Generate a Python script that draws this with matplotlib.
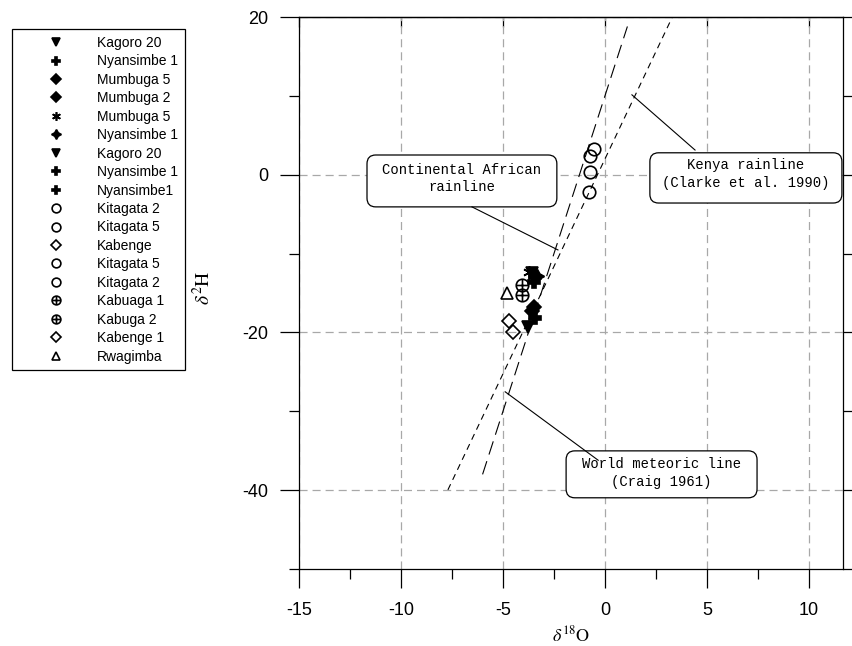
import matplotlib
matplotlib.use('Agg')
import matplotlib.pyplot as plt
from matplotlib.path import Path
from matplotlib.patches import FancyBboxPatch
from matplotlib.ticker import MultipleLocator
import numpy as np

plt.rcParams['mathtext.fontset'] = 'stix'
plt.rcParams['lines.scale_dashes'] = False
plt.rcParams['axes.unicode_minus'] = False

# ---------------- data ----------------
labels = ["Kagoro 20", "Nyansimbe 1", "Mumbuga 5", "Mumbuga 2", "Mumbuga 5",
          "Nyansimbe 1", "Kagoro 20", "Nyansimbe 1", "Nyansimbe1", "Kitagata 2",
          "Kitagata 5", "Kabenge", "Kitagata 5", "Kitagata 2", "Kabuaga 1",
          "Kabuga 2", "Kabenge 1", "Rwagimba"]
d18O = [-3.75, -3.45, -3.50, -3.60, -3.70, -3.35, -3.60, -3.45, -3.50, -0.55,
        -0.75, -4.70, -0.75, -0.80, -4.05, -4.05, -4.50, -4.80]
d2H = [-19.3, -18.2, -16.8, -17.3, -12.4, -12.8, -12.5, -13.0, -13.6, 3.2,
       2.4, -18.5, 0.4, -2.2, -14.0, -15.3, -20.0, -15.0]

# reference lines: (slope, intercept, x_start, x_end)
gmwl = (8.0, 10.0, -6.0, 1.1)        # World meteoric line (Craig 1961)
kenya = (5.45, 2.0, -7.7, 3.3)       # Kenya rainline

xticks = [-15, -10, -5, 0, 5, 10]
yticks = [-40, -20, 0, 20]

# ---------------- styles ----------------
circ = Path.unit_circle()
oplus = Path(list(circ.vertices) + [(-1, 0), (1, 0), (0, -1), (0, 1)],
             list(circ.codes) + [Path.MOVETO, Path.LINETO, Path.MOVETO, Path.LINETO])
markers = ['v', 'P', 'D', 'D', (6, 2, 0), (4, 1, 0), 'v', 'P', 'P', 'o',
           'o', 'D', 'o', 'o', oplus, oplus, 'D', '^']
filled = [True, True, True, True, True, True, True, True, True, False,
          False, False, False, False, False, False, False, False]
msizes = [8, 8, 7, 7, 9, 10, 8, 8, 9, 9, 9, 7.5, 9, 9, 9, 9, 7.5, 8]

fig = plt.figure(figsize=(8.53, 6.46), dpi=100)
ax = fig.add_axes([299/853, 1-569/646, 544/853, 552/646])

ax.set_xlim(-15, 11.67)
ax.set_ylim(-50, 20)

handles = []
for lab, x, y, m, f, ms in zip(labels, d18O, d2H, markers, filled, msizes):
    h, = ax.plot([x], [y], linestyle='none', marker=m, markersize=ms,
                 markerfacecolor='black' if f else 'none',
                 markeredgecolor='black', markeredgewidth=1.2, zorder=5)
    handles.append(h)

for (s, b, x0, x1), dash in [(gmwl, (0, (10, 5))), (kenya, (0, (4.5, 3.5)))]:
    xx = np.array([x0, x1])
    ax.plot(xx, s*xx + b, color='black', lw=0.8, linestyle=dash, zorder=4)

# ticks and grid
ax.xaxis.set_minor_locator(MultipleLocator(2.5))
ax.yaxis.set_minor_locator(MultipleLocator(10))
ax.set_xticks(xticks)
ax.set_yticks(yticks)
ax.grid(which='major', color='#a8a8a8', linestyle=(0, (5.8, 3.6)), linewidth=0.9)
ax.tick_params(axis='both', which='major', direction='out', length=14, width=0.9,
               labelsize=13, colors='black')
ax.tick_params(axis='both', which='minor', direction='out', length=7, width=0.9)
ax.tick_params(axis='x', which='both', top=False, pad=10)
ax.tick_params(axis='y', which='both', right=True, pad=8)
for lab in ax.get_xticklabels() + ax.get_yticklabels():
    lab.set_fontfamily('Liberation Sans')
for sp in ax.spines.values():
    sp.set_linewidth(0.9)
    sp.set_color('black')

sec = ax.secondary_xaxis('top')
sec.set_xticks(xticks)
sec.tick_params(direction='in', length=7, width=0.9, labeltop=False)
sec.spines['top'].set_linewidth(0.9)

# axis labels
fig.text(571/853, 1/646, r'$\delta^{18}\mathrm{O}$', ha='center', va='bottom', fontsize=13)
fig.text(203/853, 1-288/646, r'$\delta^{2}\mathrm{H}$', ha='center', va='center',
         rotation=90, fontsize=14)

# annotation boxes (axes coordinates)
boxes = [
    ("Continental African\nrainline", (0.125, 0.656, 0.349, 0.094), (0.2995, 0.708),
     [(0.318, 0.656), (0.476, 0.578)]),
    ("Kenya rainline\n(Clarke et al. 1990)", (0.645, 0.663, 0.353, 0.091), (0.8215, 0.7156),
     [(0.728, 0.759), (0.612, 0.859)]),
    ("World meteoric line\n(Craig 1961)", (0.491, 0.129, 0.351, 0.085), (0.6665, 0.174),
     [(0.55, 0.197), (0.379, 0.321)]),
]
for txt, (bx, by, bw, bh), (tx, ty), pts in boxes:
    p = FancyBboxPatch((bx, by), bw, bh, boxstyle='round,pad=0,rounding_size=0.016',
                       transform=ax.transAxes, facecolor='white', edgecolor='black',
                       linewidth=0.9, zorder=6)
    ax.add_patch(p)
    ax.text(tx, ty, txt, transform=ax.transAxes, ha='center', va='center',
            fontfamily='Liberation Mono', fontsize=10, linespacing=1.3, zorder=7)
    (x0, y0), (x1, y1) = pts
    ax.plot([x0, x1], [y0, y1], transform=ax.transAxes, color='black', lw=0.8,
            zorder=8, clip_on=False)

leg = fig.legend(handles, labels, loc='upper left', bbox_to_anchor=(12/853, 1-29/646),
                 frameon=True, fancybox=False, edgecolor='black', framealpha=1,
                 markerscale=0.7, handlelength=5.4, handletextpad=0.2,
                 borderpad=0.5, labelspacing=0.32, borderaxespad=0,
                 prop={'family': 'Liberation Sans', 'size': 10})
leg.get_frame().set_linewidth(0.9)

fig.savefig('out.png', dpi=100)
